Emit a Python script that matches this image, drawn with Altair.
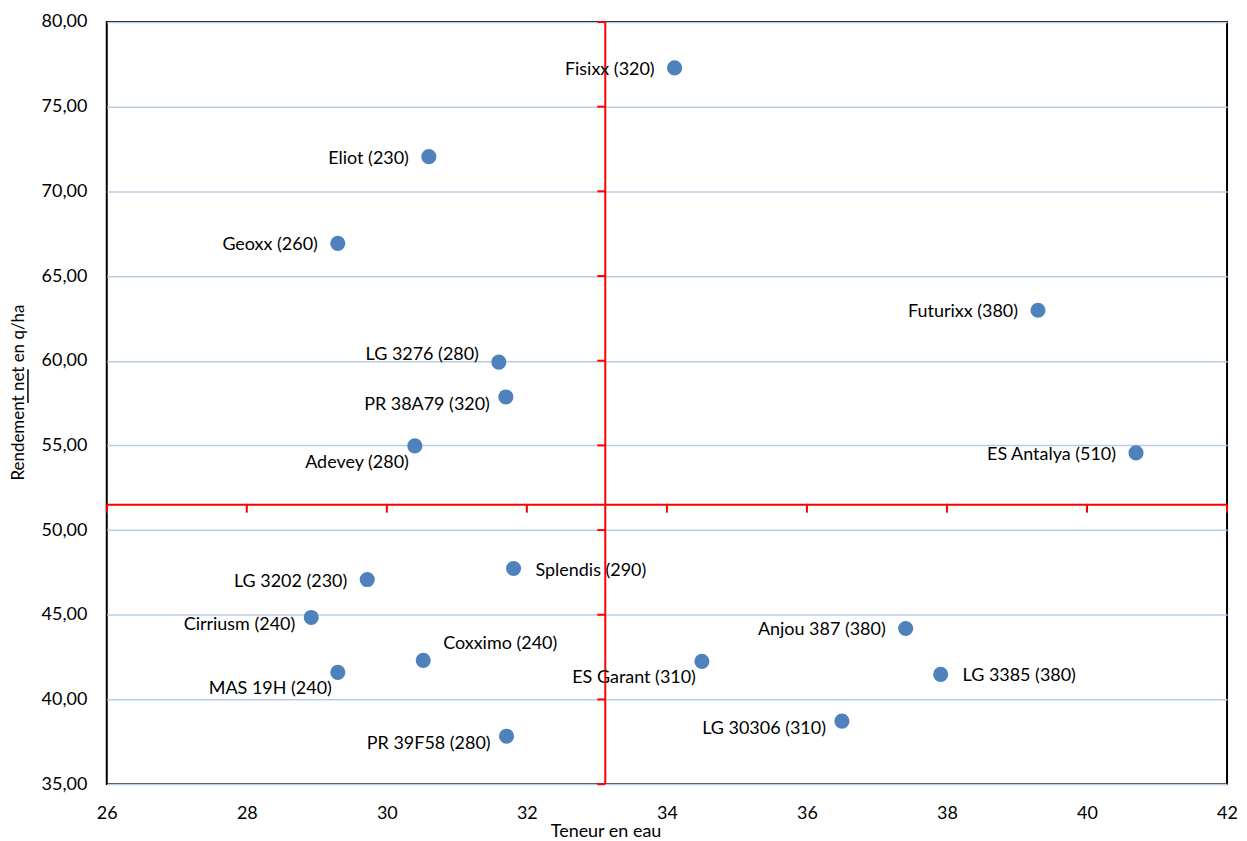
import altair as alt
import pandas as pd

# ---- data ----
varieties = ["Fisixx", "Eliot", "Geoxx", "Futurixx", "LG 3276", "PR 38A79", "Adevey",
             "ES Antalya", "Splendis", "LG 3202", "Cirriusm", "Anjou 387", "Coxximo",
             "ES Garant", "MAS 19H", "LG 3385", "LG 30306", "PR 39F58"]
indices = [320, 230, 260, 380, 280, 320, 280, 510, 290, 230, 240, 380, 240, 310, 240, 380, 310, 280]
teneur_eau = [34.11, 30.60, 29.30, 39.30, 31.60, 31.70, 30.40, 40.70, 31.81, 29.72, 28.92,
              37.41, 30.52, 34.50, 29.30, 37.91, 36.50, 31.71]
rendement = [77.29, 72.05, 66.93, 62.98, 59.92, 57.86, 54.97, 54.56, 47.73, 47.08, 44.84,
             44.19, 42.31, 42.25, 41.60, 41.48, 38.72, 37.83]
label_side = ["L", "L", "L", "L", "Lu", "Ld", "BL", "L", "R", "L", "Ld", "L", "UR",
              "BL", "BL", "R", "Ld", "Ld"]

x_cross = 33.12
y_cross = 51.5
x_ticks = [26, 28, 30, 32, 34, 36, 38, 40, 42]
y_ticks = [35, 40, 45, 50, 55, 60, 65, 70, 75, 80]

FONT = "Lato"
RED = "#ff0000"

df = pd.DataFrame({
    "variety": varieties,
    "idx": indices,
    "x": teneur_eau,
    "y": rendement,
    "side": label_side,
})
df["label"] = [f"{v} ({i})" for v, i in zip(varieties, indices)]

xscale = alt.Scale(domain=[26, 42], nice=False, zero=False)
yscale = alt.Scale(domain=[35, 80], nice=False, zero=False)

base = alt.Chart(df)

points = base.mark_circle(size=230, color="#4f81bd", opacity=1).encode(
    x=alt.X("x:Q", scale=xscale,
            axis=alt.Axis(values=x_ticks, format="d", labelFlush=False, title="Teneur en eau",
                          grid=False, ticks=False,
                          domain=False, labelPadding=20, labelFontSize=18, labelFont=FONT,
                          labelColor="#000000", titleFont=FONT, titleFontSize=18,
                          titleFontWeight="normal", titleColor="#000000",
                          titleX=500, titleY=48, titleBaseline="middle", titleAlign="center")),
    y=alt.Y("y:Q", scale=yscale,
            axis=alt.Axis(values=y_ticks, title="Rendement net en q/ha", grid=True,
                          gridColor="#b9cde5", gridWidth=1.5, ticks=False, domain=False,
                          labelFlush=False,
                          labelPadding=20, labelFontSize=18, labelFont=FONT, labelColor="#000000",
                          labelExpr="replace(format(datum.value, '.2f'), '.', ',')",
                          titleFont=FONT, titleFontSize=17, titleFontWeight="normal",
                          titleColor="#000000", titleX=-88, titleY=371, titleAngle=270,
                          titleBaseline="middle", titleAlign="center")),
)

offsets = {
    "L": dict(align="right", dx=-20, dy=2),
    "Lu": dict(align="right", dx=-20, dy=-7),
    "Ld": dict(align="right", dx=-16, dy=8),
    "BL": dict(align="right", dx=-6, dy=17),
    "R": dict(align="left", dx=22, dy=2),
    "UR": dict(align="left", dx=20, dy=-16),
}

label_layers = []
for side, opt in offsets.items():
    label_layers.append(
        base.transform_filter(alt.datum.side == side).mark_text(
            font=FONT, fontSize=18, color="#000000", baseline="middle", **opt
        ).encode(x=alt.X("x:Q", scale=xscale), y=alt.Y("y:Q", scale=yscale), text="label:N")
    )

vline = alt.Chart(pd.DataFrame({"x": [x_cross]})).mark_rule(color=RED, strokeWidth=2).encode(
    x=alt.X("x:Q", scale=xscale))
hline = alt.Chart(pd.DataFrame({"y": [y_cross]})).mark_rule(color=RED, strokeWidth=2).encode(
    y=alt.Y("y:Q", scale=yscale))

# small red tick marks on the crossing axes (downward on the horizontal, leftward on the vertical)
xt = alt.Chart(pd.DataFrame({"x": x_ticks, "y": [y_cross] * len(x_ticks)})).mark_point(
    shape="M0,0L0,1", size=256, stroke=RED, strokeWidth=2, filled=False, opacity=1).encode(
    x=alt.X("x:Q", scale=xscale), y=alt.Y("y:Q", scale=yscale))
yt = alt.Chart(pd.DataFrame({"x": [x_cross] * len(y_ticks), "y": y_ticks})).mark_point(
    shape="M0,0L-1,0", size=256, stroke=RED, strokeWidth=2, filled=False, opacity=1).encode(
    x=alt.X("x:Q", scale=xscale), y=alt.Y("y:Q", scale=yscale))

# decorative underlines (title underline cut at top, and "net" in the y title)
title_ul = alt.Chart(pd.DataFrame({"a": [0]})).mark_rule(color="#000000", strokeWidth=2).encode(
    x=alt.value(271), x2=alt.value(755), y=alt.value(-19))
net_ul = alt.Chart(pd.DataFrame({"a": [0]})).mark_rule(color="#000000", strokeWidth=1.5).encode(
    x=alt.value(-79), y=alt.value(348), y2=alt.value(382))

chart = alt.layer(
    hline, vline, xt, yt, points, *label_layers, title_ul, net_ul
).properties(
    width=1123, height=764,
    autosize=alt.AutoSizeParams(type="none"),
    padding={"left": 99, "top": 13, "right": 12, "bottom": 56},
).configure_view(
    stroke="#000000", strokeWidth=2
)

chart.save("out.html", embed_options={"renderer": "svg", "actions": False})
